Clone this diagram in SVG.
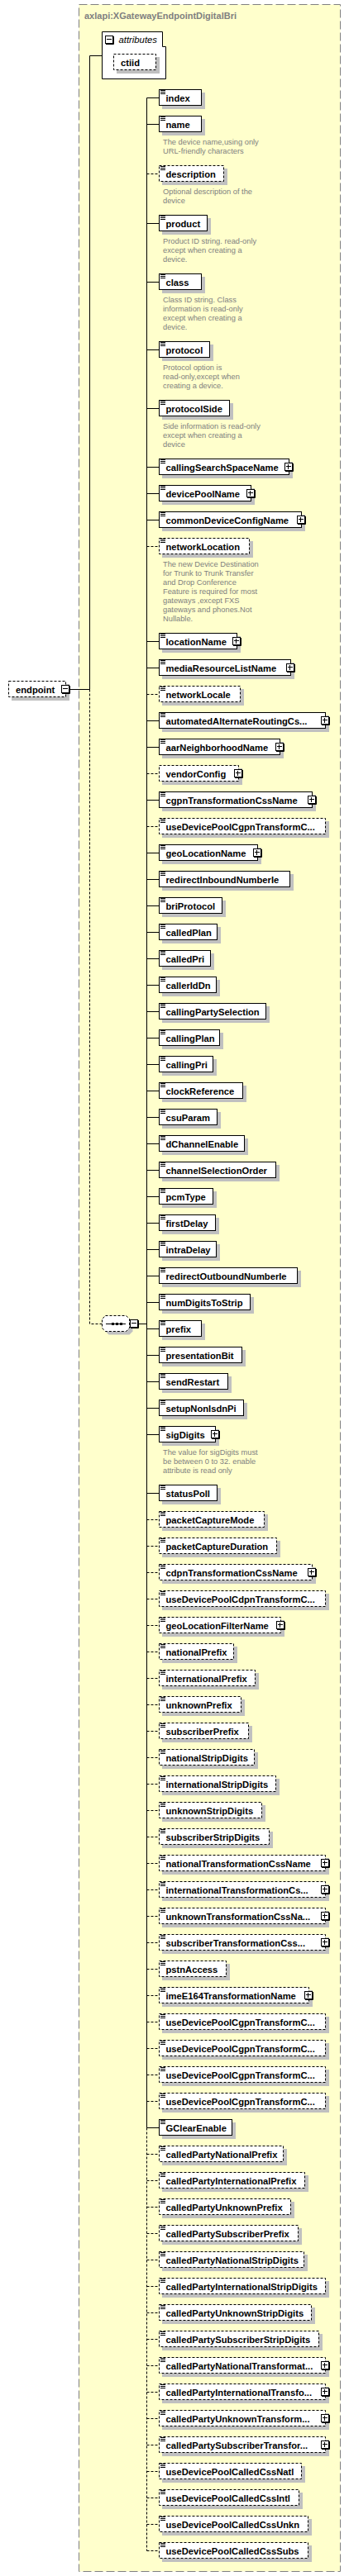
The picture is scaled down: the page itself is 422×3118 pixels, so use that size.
<svg xmlns="http://www.w3.org/2000/svg" width="422" height="3118" viewBox="0 0 422 3118">
<style>
.sh{fill:#c0c0c0}
.bx{fill:#fff;stroke:#000;stroke-width:1}
.o{stroke-dasharray:3,2}
.nm{font-family:"Liberation Sans",Arial,sans-serif;font-weight:bold;font-size:11.2px;fill:#000}
.ds{font-family:"Liberation Sans",Arial,sans-serif;font-size:9.3px;fill:#808080}
.cs{fill:none;stroke:#000;stroke-width:1}
.cd{fill:none;stroke:#000;stroke-width:1;stroke-dasharray:3,2}
.tt{font-family:"Liberation Sans",Arial,sans-serif;font-weight:bold;font-size:11px;fill:#808080}
.at{font-family:"Liberation Sans",Arial,sans-serif;font-style:italic;font-size:11.3px;fill:#000}
</style>
<defs>
<path id="ic" d="M0,1.5H6M0,3.5H6M0,5.5H6" stroke="#000" fill="none"/>
<g id="plus"><rect x="0.5" y="0.5" width="9" height="9" fill="#fff" stroke="#000"/><path d="M10.5,1V10.5H1M2,4.5H8M4.5,2V8" stroke="#000" fill="none"/></g>
<g id="minus"><rect x="0.5" y="0.5" width="9" height="9" fill="#fff" stroke="#000"/><path d="M10.5,1V10.5H1M2,4.5H8" stroke="#000" fill="none"/></g>
</defs>
<rect x="0" y="0" width="422" height="3118" fill="#fff"/>
<g id="type-box">
<rect x="95.5" y="5.5" width="316" height="3107" fill="#ffffcc" stroke="#808080" stroke-dasharray="10,4"/>
<text class="tt" x="102" y="22.5">axlapi:XGatewayEndpointDigitalBri</text>
</g>
<g id="connectors">
<path class="cs" d="M85,834.5H108.5M108.5,67.5V834.5M108.5,67.5H123.5M167,1602.5H177.5M177.5,118.5V2575.5M177.5,118.5h15M177.5,150.5h15M177.5,270.5h15M177.5,341.5h15M177.5,423.5h15M177.5,494.5h15M177.5,565.5h15M177.5,597.5h15M177.5,629.5h15M177.5,776.5h15M177.5,808.5h15M177.5,872.5h15M177.5,904.5h15M177.5,968.5h15M177.5,1032.5h15M177.5,1064.5h15M177.5,1096.5h15M177.5,1128.5h15M177.5,1160.5h15M177.5,1192.5h15M177.5,1224.5h15M177.5,1256.5h15M177.5,1288.5h15M177.5,1320.5h15M177.5,1352.5h15M177.5,1384.5h15M177.5,1416.5h15M177.5,1448.5h15M177.5,1480.5h15M177.5,1512.5h15M177.5,1544.5h15M177.5,1576.5h15M177.5,1608.5h15M177.5,1640.5h15M177.5,1672.5h15M177.5,1704.5h15M177.5,1736.5h15M177.5,1807.5h15M177.5,2575.5h15"/>
<path class="cd" d="M108.5,834.5V1602.5H123.5M177.5,2575.5V3087.5M177.5,210.5h15M177.5,661.5h15M177.5,840.5h15M177.5,936.5h15M177.5,1000.5h15M177.5,1839.5h15M177.5,1871.5h15M177.5,1903.5h15M177.5,1935.5h15M177.5,1967.5h15M177.5,1999.5h15M177.5,2031.5h15M177.5,2063.5h15M177.5,2095.5h15M177.5,2127.5h15M177.5,2159.5h15M177.5,2191.5h15M177.5,2223.5h15M177.5,2255.5h15M177.5,2287.5h15M177.5,2319.5h15M177.5,2351.5h15M177.5,2383.5h15M177.5,2415.5h15M177.5,2447.5h15M177.5,2479.5h15M177.5,2511.5h15M177.5,2543.5h15M177.5,2607.5h15M177.5,2639.5h15M177.5,2671.5h15M177.5,2703.5h15M177.5,2735.5h15M177.5,2767.5h15M177.5,2799.5h15M177.5,2831.5h15M177.5,2863.5h15M177.5,2895.5h15M177.5,2927.5h15M177.5,2959.5h15M177.5,2991.5h15M177.5,3023.5h15M177.5,3055.5h15M177.5,3087.5h15"/>
</g>
<g id="endpoint"><rect class="sh" x="14" y="828" width="70" height="20"/><rect class="bx o" x="10.5" y="824.5" width="69" height="19"/><text class="nm" x="19" y="838.5">endpoint</text><use href="#minus" x="74" y="829"/></g>
<g id="attributes"><path class="bx" d="M123.5,38.5H196.5V56.5H200.5V95.5H123.5Z"/><use href="#minus" x="127" y="43"/><text class="at" x="143.5" y="52">attributes</text></g>
<g id="a-ctiid"><rect class="sh" x="141" y="69" width="52" height="20"/><rect class="bx o" x="137.5" y="65.5" width="51" height="19"/><text class="nm" x="146" y="79.5">ctiid</text></g>
<g id="sequence"><path class="sh" d="M131.5,1596.5H156.5L160.5,1600.5V1611.5L156.5,1615.5H131.5L127.5,1611.5V1600.5Z"/><path class="bx o" d="M127.5,1592.5H152.5L156.5,1596.5V1607.5L152.5,1611.5H127.5L123.5,1607.5V1596.5Z"/><path class="cs" d="M128,1602.5H152"/><rect x="135" y="1601" width="3" height="3"/><rect x="140" y="1601" width="3" height="3"/><rect x="145" y="1601" width="3" height="3"/><use href="#minus" x="157" y="1597"/></g>
<g id="e-index"><rect class="sh" x="196" y="112" width="52" height="20"/><rect class="bx" x="192.5" y="108.5" width="51" height="19"/><use href="#ic" x="194" y="108"/><text class="nm" x="200.5" y="122.5">index</text></g>
<g id="e-name"><rect class="sh" x="196" y="144" width="52" height="20"/><rect class="bx" x="192.5" y="140.5" width="51" height="19"/><use href="#ic" x="194" y="140"/><text class="nm" x="200.5" y="154.5">name</text><text class="ds" x="197" y="175">The device name,using only</text><text class="ds" x="197" y="186">URL-friendly characters</text></g>
<g id="e-description"><rect class="sh" x="196" y="204" width="79" height="20"/><rect class="bx o" x="192.5" y="200.5" width="78" height="19"/><use href="#ic" x="194" y="200"/><text class="nm" x="200.5" y="214.5">description</text><text class="ds" x="197" y="235">Optional description of the</text><text class="ds" x="197" y="246">device</text></g>
<g id="e-product"><rect class="sh" x="196" y="264" width="59" height="20"/><rect class="bx" x="192.5" y="260.5" width="58" height="19"/><use href="#ic" x="194" y="260"/><text class="nm" x="200.5" y="274.5">product</text><text class="ds" x="197" y="295">Product ID string. read-only</text><text class="ds" x="197" y="306">except when creating a</text><text class="ds" x="197" y="317">device.</text></g>
<g id="e-class"><rect class="sh" x="196" y="335" width="52" height="20"/><rect class="bx" x="192.5" y="331.5" width="51" height="19"/><use href="#ic" x="194" y="331"/><text class="nm" x="200.5" y="345.5">class</text><text class="ds" x="197" y="366">Class ID string. Class</text><text class="ds" x="197" y="377">information is read-only</text><text class="ds" x="197" y="388">except when creating a</text><text class="ds" x="197" y="399">device.</text></g>
<g id="e-protocol"><rect class="sh" x="196" y="417" width="62" height="20"/><rect class="bx" x="192.5" y="413.5" width="61" height="19"/><use href="#ic" x="194" y="413"/><text class="nm" x="200.5" y="427.5">protocol</text><text class="ds" x="197" y="448">Protocol option is</text><text class="ds" x="197" y="459">read-only,except when</text><text class="ds" x="197" y="470">creating a device.</text></g>
<g id="e-protocolSide"><rect class="sh" x="196" y="488" width="86" height="20"/><rect class="bx" x="192.5" y="484.5" width="85" height="19"/><use href="#ic" x="194" y="484"/><text class="nm" x="200.5" y="498.5">protocolSide</text><text class="ds" x="197" y="519">Side information is read-only</text><text class="ds" x="197" y="530">except when creating a</text><text class="ds" x="197" y="541">device</text></g>
<g id="e-callingSearchSpaceName"><rect class="sh" x="196" y="559" width="158" height="20"/><rect class="bx" x="192.5" y="555.5" width="157" height="19"/><use href="#ic" x="194" y="555"/><text class="nm" x="200.5" y="569.5">callingSearchSpaceName</text><use href="#plus" x="344" y="560"/></g>
<g id="e-devicePoolName"><rect class="sh" x="196" y="591" width="112" height="20"/><rect class="bx" x="192.5" y="587.5" width="111" height="19"/><use href="#ic" x="194" y="587"/><text class="nm" x="200.5" y="601.5">devicePoolName</text><use href="#plus" x="298" y="592"/></g>
<g id="e-commonDeviceConfigName"><rect class="sh" x="196" y="623" width="173" height="20"/><rect class="bx" x="192.5" y="619.5" width="172" height="19"/><use href="#ic" x="194" y="619"/><text class="nm" x="200.5" y="633.5">commonDeviceConfigName</text><use href="#plus" x="359" y="624"/></g>
<g id="e-networkLocation"><rect class="sh" x="196" y="655" width="110" height="20"/><rect class="bx o" x="192.5" y="651.5" width="109" height="19"/><use href="#ic" x="194" y="651"/><text class="nm" x="200.5" y="665.5">networkLocation</text><text class="ds" x="197" y="686">The new Device Destination</text><text class="ds" x="197" y="697">for Trunk to Trunk Transfer</text><text class="ds" x="197" y="708">and Drop Conference</text><text class="ds" x="197" y="719">Feature is required for most</text><text class="ds" x="197" y="730">gateways ,except FXS</text><text class="ds" x="197" y="741">gateways and phones.Not</text><text class="ds" x="197" y="752">Nullable.</text></g>
<g id="e-locationName"><rect class="sh" x="196" y="770" width="95" height="20"/><rect class="bx" x="192.5" y="766.5" width="94" height="19"/><use href="#ic" x="194" y="766"/><text class="nm" x="200.5" y="780.5">locationName</text><use href="#plus" x="281" y="771"/></g>
<g id="e-mediaResourceListName"><rect class="sh" x="196" y="802" width="160" height="20"/><rect class="bx" x="192.5" y="798.5" width="159" height="19"/><use href="#ic" x="194" y="798"/><text class="nm" x="200.5" y="812.5">mediaResourceListName</text><use href="#plus" x="346" y="803"/></g>
<g id="e-networkLocale"><rect class="sh" x="196" y="834" width="99" height="20"/><rect class="bx o" x="192.5" y="830.5" width="98" height="19"/><use href="#ic" x="194" y="830"/><text class="nm" x="200.5" y="844.5">networkLocale</text></g>
<g id="e-automatedAlternateRoutingCss"><rect class="sh" x="196" y="866" width="202" height="20"/><rect class="bx" x="192.5" y="862.5" width="201" height="19"/><use href="#ic" x="194" y="862"/><text class="nm" x="200.5" y="876.5">automatedAlternateRoutingCs...</text><use href="#plus" x="388" y="867"/></g>
<g id="e-aarNeighborhoodName"><rect class="sh" x="196" y="898" width="147" height="20"/><rect class="bx" x="192.5" y="894.5" width="146" height="19"/><use href="#ic" x="194" y="894"/><text class="nm" x="200.5" y="908.5">aarNeighborhoodName</text><use href="#plus" x="333" y="899"/></g>
<g id="e-vendorConfig"><rect class="sh" x="196" y="930" width="97" height="20"/><rect class="bx o" x="192.5" y="926.5" width="96" height="19"/><text class="nm" x="200.5" y="940.5">vendorConfig</text><use href="#plus" x="283" y="931"/></g>
<g id="e-cgpnTransformationCssName"><rect class="sh" x="196" y="962" width="186" height="20"/><rect class="bx" x="192.5" y="958.5" width="185" height="19"/><use href="#ic" x="194" y="958"/><text class="nm" x="200.5" y="972.5">cgpnTransformationCssName</text><use href="#plus" x="372" y="963"/></g>
<g id="e-useDevicePoolCgpnTransformCss1"><rect class="sh" x="196" y="994" width="202" height="20"/><rect class="bx o" x="192.5" y="990.5" width="201" height="19"/><use href="#ic" x="194" y="990"/><text class="nm" x="200.5" y="1004.5">useDevicePoolCgpnTransformC...</text></g>
<g id="e-geoLocationName"><rect class="sh" x="196" y="1026" width="120" height="20"/><rect class="bx" x="192.5" y="1022.5" width="119" height="19"/><use href="#ic" x="194" y="1022"/><text class="nm" x="200.5" y="1036.5">geoLocationName</text><use href="#plus" x="306" y="1027"/></g>
<g id="e-redirectInboundNumberIe"><rect class="sh" x="196" y="1058" width="159" height="20"/><rect class="bx" x="192.5" y="1054.5" width="158" height="19"/><use href="#ic" x="194" y="1054"/><text class="nm" x="200.5" y="1068.5">redirectInboundNumberIe</text></g>
<g id="e-briProtocol"><rect class="sh" x="196" y="1090" width="77" height="20"/><rect class="bx" x="192.5" y="1086.5" width="76" height="19"/><use href="#ic" x="194" y="1086"/><text class="nm" x="200.5" y="1100.5">briProtocol</text></g>
<g id="e-calledPlan"><rect class="sh" x="196" y="1122" width="71" height="20"/><rect class="bx" x="192.5" y="1118.5" width="70" height="19"/><use href="#ic" x="194" y="1118"/><text class="nm" x="200.5" y="1132.5">calledPlan</text></g>
<g id="e-calledPri"><rect class="sh" x="196" y="1154" width="63" height="20"/><rect class="bx" x="192.5" y="1150.5" width="62" height="19"/><use href="#ic" x="194" y="1150"/><text class="nm" x="200.5" y="1164.5">calledPri</text></g>
<g id="e-callerIdDn"><rect class="sh" x="196" y="1186" width="70" height="20"/><rect class="bx" x="192.5" y="1182.5" width="69" height="19"/><use href="#ic" x="194" y="1182"/><text class="nm" x="200.5" y="1196.5">callerIdDn</text></g>
<g id="e-callingPartySelection"><rect class="sh" x="196" y="1218" width="130" height="20"/><rect class="bx" x="192.5" y="1214.5" width="129" height="19"/><use href="#ic" x="194" y="1214"/><text class="nm" x="200.5" y="1228.5">callingPartySelection</text></g>
<g id="e-callingPlan"><rect class="sh" x="196" y="1250" width="74" height="20"/><rect class="bx" x="192.5" y="1246.5" width="73" height="19"/><use href="#ic" x="194" y="1246"/><text class="nm" x="200.5" y="1260.5">callingPlan</text></g>
<g id="e-callingPri"><rect class="sh" x="196" y="1282" width="66" height="20"/><rect class="bx" x="192.5" y="1278.5" width="65" height="19"/><use href="#ic" x="194" y="1278"/><text class="nm" x="200.5" y="1292.5">callingPri</text></g>
<g id="e-clockReference"><rect class="sh" x="196" y="1314" width="102" height="20"/><rect class="bx" x="192.5" y="1310.5" width="101" height="19"/><use href="#ic" x="194" y="1310"/><text class="nm" x="200.5" y="1324.5">clockReference</text></g>
<g id="e-csuParam"><rect class="sh" x="196" y="1346" width="71" height="20"/><rect class="bx" x="192.5" y="1342.5" width="70" height="19"/><use href="#ic" x="194" y="1342"/><text class="nm" x="200.5" y="1356.5">csuParam</text></g>
<g id="e-dChannelEnable"><rect class="sh" x="196" y="1378" width="104" height="20"/><rect class="bx" x="192.5" y="1374.5" width="103" height="19"/><use href="#ic" x="194" y="1374"/><text class="nm" x="200.5" y="1388.5">dChannelEnable</text></g>
<g id="e-channelSelectionOrder"><rect class="sh" x="196" y="1410" width="142" height="20"/><rect class="bx" x="192.5" y="1406.5" width="141" height="19"/><use href="#ic" x="194" y="1406"/><text class="nm" x="200.5" y="1420.5">channelSelectionOrder</text></g>
<g id="e-pcmType"><rect class="sh" x="196" y="1442" width="66" height="20"/><rect class="bx" x="192.5" y="1438.5" width="65" height="19"/><use href="#ic" x="194" y="1438"/><text class="nm" x="200.5" y="1452.5">pcmType</text></g>
<g id="e-firstDelay"><rect class="sh" x="196" y="1474" width="69" height="20"/><rect class="bx" x="192.5" y="1470.5" width="68" height="19"/><use href="#ic" x="194" y="1470"/><text class="nm" x="200.5" y="1484.5">firstDelay</text></g>
<g id="e-intraDelay"><rect class="sh" x="196" y="1506" width="70" height="20"/><rect class="bx" x="192.5" y="1502.5" width="69" height="19"/><use href="#ic" x="194" y="1502"/><text class="nm" x="200.5" y="1516.5">intraDelay</text></g>
<g id="e-redirectOutboundNumberIe"><rect class="sh" x="196" y="1538" width="168" height="20"/><rect class="bx" x="192.5" y="1534.5" width="167" height="19"/><use href="#ic" x="194" y="1534"/><text class="nm" x="200.5" y="1548.5">redirectOutboundNumberIe</text></g>
<g id="e-numDigitsToStrip"><rect class="sh" x="196" y="1570" width="111" height="20"/><rect class="bx" x="192.5" y="1566.5" width="110" height="19"/><use href="#ic" x="194" y="1566"/><text class="nm" x="200.5" y="1580.5">numDigitsToStrip</text></g>
<g id="e-prefix"><rect class="sh" x="196" y="1602" width="52" height="20"/><rect class="bx" x="192.5" y="1598.5" width="51" height="19"/><use href="#ic" x="194" y="1598"/><text class="nm" x="200.5" y="1612.5">prefix</text></g>
<g id="e-presentationBit"><rect class="sh" x="196" y="1634" width="101" height="20"/><rect class="bx" x="192.5" y="1630.5" width="100" height="19"/><use href="#ic" x="194" y="1630"/><text class="nm" x="200.5" y="1644.5">presentationBit</text></g>
<g id="e-sendRestart"><rect class="sh" x="196" y="1666" width="84" height="20"/><rect class="bx" x="192.5" y="1662.5" width="83" height="19"/><use href="#ic" x="194" y="1662"/><text class="nm" x="200.5" y="1676.5">sendRestart</text></g>
<g id="e-setupNonIsdnPi"><rect class="sh" x="196" y="1698" width="103" height="20"/><rect class="bx" x="192.5" y="1694.5" width="102" height="19"/><use href="#ic" x="194" y="1694"/><text class="nm" x="200.5" y="1708.5">setupNonIsdnPi</text></g>
<g id="e-sigDigits"><rect class="sh" x="196" y="1730" width="69" height="20"/><rect class="bx" x="192.5" y="1726.5" width="68" height="19"/><use href="#ic" x="194" y="1726"/><text class="nm" x="200.5" y="1740.5">sigDigits</text><use href="#plus" x="255" y="1731"/><text class="ds" x="197" y="1761">The value for sigDigits must</text><text class="ds" x="197" y="1772">be between 0 to 32. enable</text><text class="ds" x="197" y="1783">attribute is read only</text></g>
<g id="e-statusPoll"><rect class="sh" x="196" y="1801" width="71" height="20"/><rect class="bx" x="192.5" y="1797.5" width="70" height="19"/><use href="#ic" x="194" y="1797"/><text class="nm" x="200.5" y="1811.5">statusPoll</text></g>
<g id="e-packetCaptureMode"><rect class="sh" x="196" y="1833" width="128" height="20"/><rect class="bx o" x="192.5" y="1829.5" width="127" height="19"/><use href="#ic" x="194" y="1829"/><text class="nm" x="200.5" y="1843.5">packetCaptureMode</text></g>
<g id="e-packetCaptureDuration"><rect class="sh" x="196" y="1865" width="143" height="20"/><rect class="bx o" x="192.5" y="1861.5" width="142" height="19"/><use href="#ic" x="194" y="1861"/><text class="nm" x="200.5" y="1875.5">packetCaptureDuration</text></g>
<g id="e-cdpnTransformationCssName"><rect class="sh" x="196" y="1897" width="186" height="20"/><rect class="bx o" x="192.5" y="1893.5" width="185" height="19"/><use href="#ic" x="194" y="1893"/><text class="nm" x="200.5" y="1907.5">cdpnTransformationCssName</text><use href="#plus" x="372" y="1898"/></g>
<g id="e-useDevicePoolCdpnTransformCss"><rect class="sh" x="196" y="1929" width="202" height="20"/><rect class="bx o" x="192.5" y="1925.5" width="201" height="19"/><use href="#ic" x="194" y="1925"/><text class="nm" x="200.5" y="1939.5">useDevicePoolCdpnTransformC...</text></g>
<g id="e-geoLocationFilterName"><rect class="sh" x="196" y="1961" width="148" height="20"/><rect class="bx o" x="192.5" y="1957.5" width="147" height="19"/><use href="#ic" x="194" y="1957"/><text class="nm" x="200.5" y="1971.5">geoLocationFilterName</text><use href="#plus" x="334" y="1962"/></g>
<g id="e-nationalPrefix"><rect class="sh" x="196" y="1993" width="91" height="20"/><rect class="bx o" x="192.5" y="1989.5" width="90" height="19"/><use href="#ic" x="194" y="1989"/><text class="nm" x="200.5" y="2003.5">nationalPrefix</text></g>
<g id="e-internationalPrefix"><rect class="sh" x="196" y="2025" width="117" height="20"/><rect class="bx o" x="192.5" y="2021.5" width="116" height="19"/><use href="#ic" x="194" y="2021"/><text class="nm" x="200.5" y="2035.5">internationalPrefix</text></g>
<g id="e-unknownPrefix"><rect class="sh" x="196" y="2057" width="100" height="20"/><rect class="bx o" x="192.5" y="2053.5" width="99" height="19"/><use href="#ic" x="194" y="2053"/><text class="nm" x="200.5" y="2067.5">unknownPrefix</text></g>
<g id="e-subscriberPrefix"><rect class="sh" x="196" y="2089" width="109" height="20"/><rect class="bx o" x="192.5" y="2085.5" width="108" height="19"/><use href="#ic" x="194" y="2085"/><text class="nm" x="200.5" y="2099.5">subscriberPrefix</text></g>
<g id="e-nationalStripDigits"><rect class="sh" x="196" y="2121" width="116" height="20"/><rect class="bx o" x="192.5" y="2117.5" width="115" height="19"/><use href="#ic" x="194" y="2117"/><text class="nm" x="200.5" y="2131.5">nationalStripDigits</text></g>
<g id="e-internationalStripDigits"><rect class="sh" x="196" y="2153" width="142" height="20"/><rect class="bx o" x="192.5" y="2149.5" width="141" height="19"/><use href="#ic" x="194" y="2149"/><text class="nm" x="200.5" y="2163.5">internationalStripDigits</text></g>
<g id="e-unknownStripDigits"><rect class="sh" x="196" y="2185" width="125" height="20"/><rect class="bx o" x="192.5" y="2181.5" width="124" height="19"/><use href="#ic" x="194" y="2181"/><text class="nm" x="200.5" y="2195.5">unknownStripDigits</text></g>
<g id="e-subscriberStripDigits"><rect class="sh" x="196" y="2217" width="134" height="20"/><rect class="bx o" x="192.5" y="2213.5" width="133" height="19"/><use href="#ic" x="194" y="2213"/><text class="nm" x="200.5" y="2227.5">subscriberStripDigits</text></g>
<g id="e-nationalTransformationCssName"><rect class="sh" x="196" y="2249" width="202" height="20"/><rect class="bx o" x="192.5" y="2245.5" width="201" height="19"/><use href="#ic" x="194" y="2245"/><text class="nm" x="200.5" y="2259.5">nationalTransformationCssName</text><use href="#plus" x="388" y="2250"/></g>
<g id="e-internationalTransformationCssName"><rect class="sh" x="196" y="2281" width="202" height="20"/><rect class="bx o" x="192.5" y="2277.5" width="201" height="19"/><use href="#ic" x="194" y="2277"/><text class="nm" x="200.5" y="2291.5">internationalTransformationCs...</text><use href="#plus" x="388" y="2282"/></g>
<g id="e-unknownTransformationCssName"><rect class="sh" x="196" y="2313" width="202" height="20"/><rect class="bx o" x="192.5" y="2309.5" width="201" height="19"/><use href="#ic" x="194" y="2309"/><text class="nm" x="200.5" y="2323.5">unknownTransformationCssNa...</text><use href="#plus" x="388" y="2314"/></g>
<g id="e-subscriberTransformationCssName"><rect class="sh" x="196" y="2345" width="202" height="20"/><rect class="bx o" x="192.5" y="2341.5" width="201" height="19"/><use href="#ic" x="194" y="2341"/><text class="nm" x="200.5" y="2355.5">subscriberTransformationCss...</text><use href="#plus" x="388" y="2346"/></g>
<g id="e-pstnAccess"><rect class="sh" x="196" y="2377" width="82" height="20"/><rect class="bx o" x="192.5" y="2373.5" width="81" height="19"/><use href="#ic" x="194" y="2373"/><text class="nm" x="200.5" y="2387.5">pstnAccess</text></g>
<g id="e-imeE164TransformationName"><rect class="sh" x="196" y="2409" width="182" height="20"/><rect class="bx o" x="192.5" y="2405.5" width="181" height="19"/><use href="#ic" x="194" y="2405"/><text class="nm" x="200.5" y="2419.5">imeE164TransformationName</text><use href="#plus" x="368" y="2410"/></g>
<g id="e-useDevicePoolCgpnTransformCss2"><rect class="sh" x="196" y="2441" width="202" height="20"/><rect class="bx o" x="192.5" y="2437.5" width="201" height="19"/><use href="#ic" x="194" y="2437"/><text class="nm" x="200.5" y="2451.5">useDevicePoolCgpnTransformC...</text></g>
<g id="e-useDevicePoolCgpnTransformCss3"><rect class="sh" x="196" y="2473" width="202" height="20"/><rect class="bx o" x="192.5" y="2469.5" width="201" height="19"/><use href="#ic" x="194" y="2469"/><text class="nm" x="200.5" y="2483.5">useDevicePoolCgpnTransformC...</text></g>
<g id="e-useDevicePoolCgpnTransformCss4"><rect class="sh" x="196" y="2505" width="202" height="20"/><rect class="bx o" x="192.5" y="2501.5" width="201" height="19"/><use href="#ic" x="194" y="2501"/><text class="nm" x="200.5" y="2515.5">useDevicePoolCgpnTransformC...</text></g>
<g id="e-useDevicePoolCgpnTransformCss5"><rect class="sh" x="196" y="2537" width="202" height="20"/><rect class="bx o" x="192.5" y="2533.5" width="201" height="19"/><use href="#ic" x="194" y="2533"/><text class="nm" x="200.5" y="2547.5">useDevicePoolCgpnTransformC...</text></g>
<g id="e-GClearEnable"><rect class="sh" x="196" y="2569" width="89" height="20"/><rect class="bx" x="192.5" y="2565.5" width="88" height="19"/><use href="#ic" x="194" y="2565"/><text class="nm" x="200.5" y="2579.5">GClearEnable</text></g>
<g id="e-calledPartyNationalPrefix"><rect class="sh" x="196" y="2601" width="151" height="20"/><rect class="bx o" x="192.5" y="2597.5" width="150" height="19"/><use href="#ic" x="194" y="2597"/><text class="nm" x="200.5" y="2611.5">calledPartyNationalPrefix</text></g>
<g id="e-calledPartyInternationalPrefix"><rect class="sh" x="196" y="2633" width="177" height="20"/><rect class="bx o" x="192.5" y="2629.5" width="176" height="19"/><use href="#ic" x="194" y="2629"/><text class="nm" x="200.5" y="2643.5">calledPartyInternationalPrefix</text></g>
<g id="e-calledPartyUnknownPrefix"><rect class="sh" x="196" y="2665" width="160" height="20"/><rect class="bx o" x="192.5" y="2661.5" width="159" height="19"/><use href="#ic" x="194" y="2661"/><text class="nm" x="200.5" y="2675.5">calledPartyUnknownPrefix</text></g>
<g id="e-calledPartySubscriberPrefix"><rect class="sh" x="196" y="2697" width="169" height="20"/><rect class="bx o" x="192.5" y="2693.5" width="168" height="19"/><use href="#ic" x="194" y="2693"/><text class="nm" x="200.5" y="2707.5">calledPartySubscriberPrefix</text></g>
<g id="e-calledPartyNationalStripDigits"><rect class="sh" x="196" y="2729" width="176" height="20"/><rect class="bx o" x="192.5" y="2725.5" width="175" height="19"/><use href="#ic" x="194" y="2725"/><text class="nm" x="200.5" y="2739.5">calledPartyNationalStripDigits</text></g>
<g id="e-calledPartyInternationalStripDigits"><rect class="sh" x="196" y="2761" width="202" height="20"/><rect class="bx o" x="192.5" y="2757.5" width="201" height="19"/><use href="#ic" x="194" y="2757"/><text class="nm" x="200.5" y="2771.5">calledPartyInternationalStripDigits</text></g>
<g id="e-calledPartyUnknownStripDigits"><rect class="sh" x="196" y="2793" width="185" height="20"/><rect class="bx o" x="192.5" y="2789.5" width="184" height="19"/><use href="#ic" x="194" y="2789"/><text class="nm" x="200.5" y="2803.5">calledPartyUnknownStripDigits</text></g>
<g id="e-calledPartySubscriberStripDigits"><rect class="sh" x="196" y="2825" width="194" height="20"/><rect class="bx o" x="192.5" y="2821.5" width="193" height="19"/><use href="#ic" x="194" y="2821"/><text class="nm" x="200.5" y="2835.5">calledPartySubscriberStripDigits</text></g>
<g id="e-calledPartyNationalTransformationCssName"><rect class="sh" x="196" y="2857" width="202" height="20"/><rect class="bx o" x="192.5" y="2853.5" width="201" height="19"/><use href="#ic" x="194" y="2853"/><text class="nm" x="200.5" y="2867.5">calledPartyNationalTransformat...</text><use href="#plus" x="388" y="2858"/></g>
<g id="e-calledPartyInternationalTransformationCssName"><rect class="sh" x="196" y="2889" width="202" height="20"/><rect class="bx o" x="192.5" y="2885.5" width="201" height="19"/><use href="#ic" x="194" y="2885"/><text class="nm" x="200.5" y="2899.5">calledPartyInternationalTransfo...</text><use href="#plus" x="388" y="2890"/></g>
<g id="e-calledPartyUnknownTransformationCssName"><rect class="sh" x="196" y="2921" width="202" height="20"/><rect class="bx o" x="192.5" y="2917.5" width="201" height="19"/><use href="#ic" x="194" y="2917"/><text class="nm" x="200.5" y="2931.5">calledPartyUnknownTransform...</text><use href="#plus" x="388" y="2922"/></g>
<g id="e-calledPartySubscriberTransformationCssName"><rect class="sh" x="196" y="2953" width="202" height="20"/><rect class="bx o" x="192.5" y="2949.5" width="201" height="19"/><use href="#ic" x="194" y="2949"/><text class="nm" x="200.5" y="2963.5">calledPartySubscriberTransfor...</text><use href="#plus" x="388" y="2954"/></g>
<g id="e-useDevicePoolCalledCssNatl"><rect class="sh" x="196" y="2985" width="173" height="20"/><rect class="bx o" x="192.5" y="2981.5" width="172" height="19"/><use href="#ic" x="194" y="2981"/><text class="nm" x="200.5" y="2995.5">useDevicePoolCalledCssNatl</text></g>
<g id="e-useDevicePoolCalledCssIntl"><rect class="sh" x="196" y="3017" width="170" height="20"/><rect class="bx o" x="192.5" y="3013.5" width="169" height="19"/><use href="#ic" x="194" y="3013"/><text class="nm" x="200.5" y="3027.5">useDevicePoolCalledCssIntl</text></g>
<g id="e-useDevicePoolCalledCssUnkn"><rect class="sh" x="196" y="3049" width="181" height="20"/><rect class="bx o" x="192.5" y="3045.5" width="180" height="19"/><use href="#ic" x="194" y="3045"/><text class="nm" x="200.5" y="3059.5">useDevicePoolCalledCssUnkn</text></g>
<g id="e-useDevicePoolCalledCssSubs"><rect class="sh" x="196" y="3081" width="181" height="20"/><rect class="bx o" x="192.5" y="3077.5" width="180" height="19"/><use href="#ic" x="194" y="3077"/><text class="nm" x="200.5" y="3091.5">useDevicePoolCalledCssSubs</text></g>
</svg>
